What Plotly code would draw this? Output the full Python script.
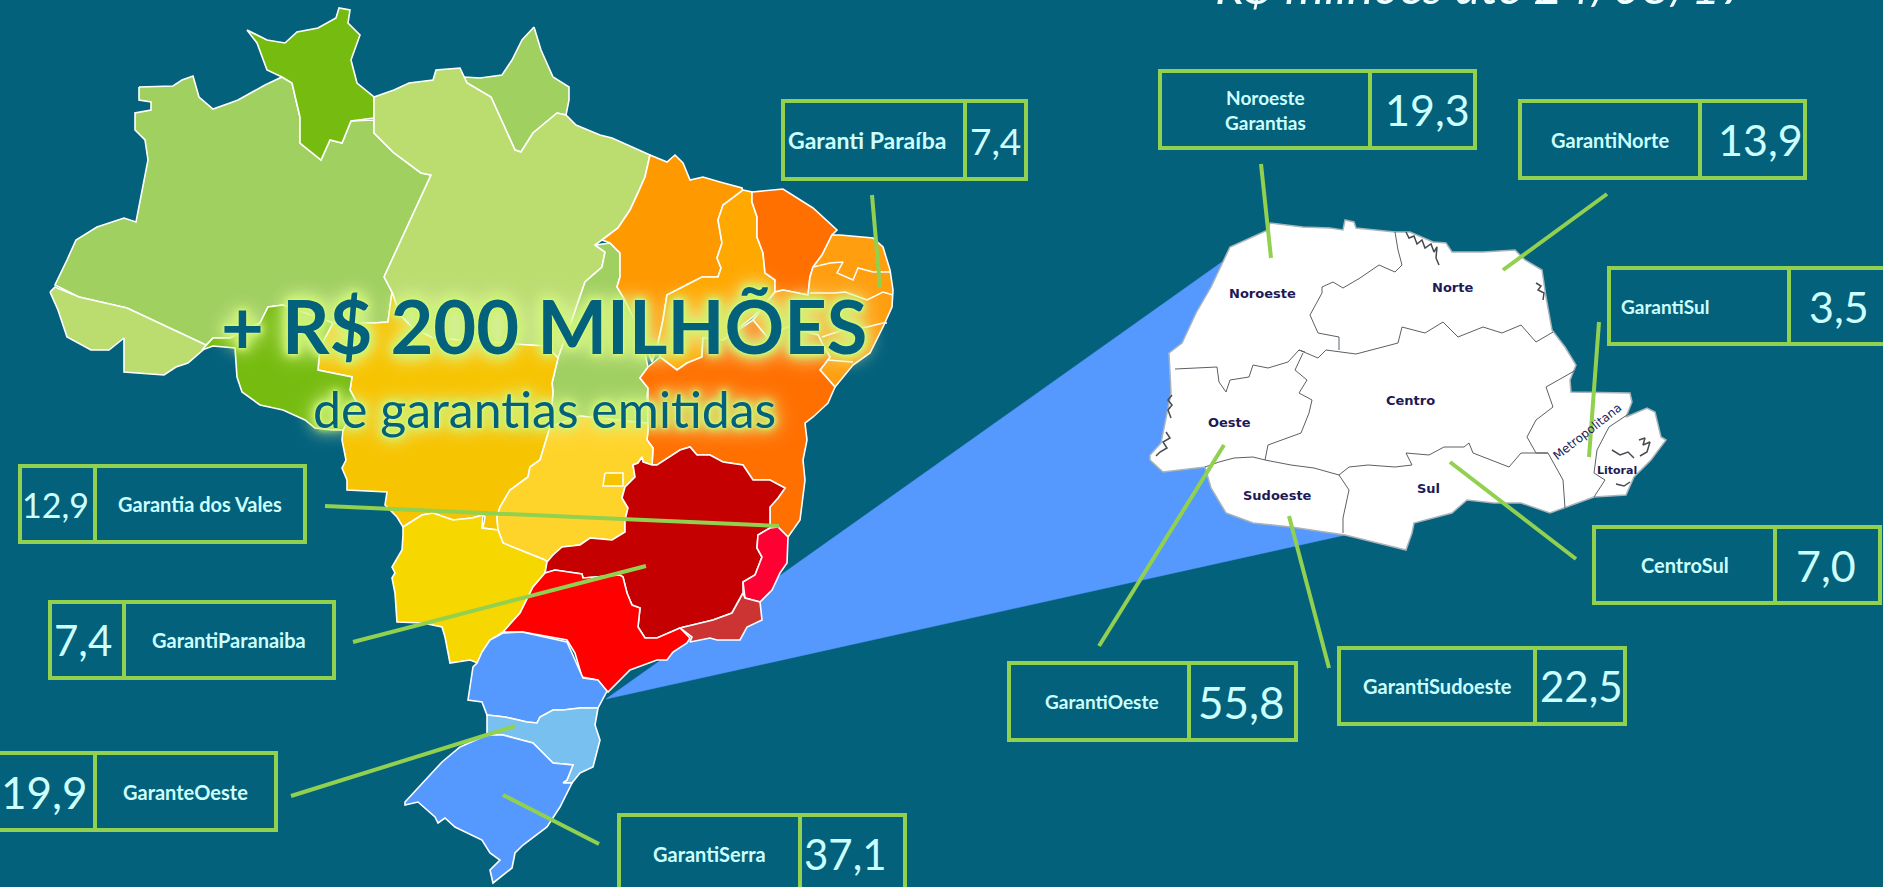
import plotly.graph_objects as go

# ---------- Fund data ----------
fund_names = ["Garanti Paraíba", "Noroeste<br>Garantias", "GarantiNorte", "GarantiSul", "CentroSul",
              "GarantiSudoeste", "GarantiOeste", "GarantiSerra", "GaranteOeste", "GarantiParanaiba", "Garantia dos Vales"]
fund_values = [7.4, 19.3, 13.9, 3.5, 7.0, 22.5, 55.8, 37.1, 19.9, 7.4, 12.9]
value_font = [37, 43, 43, 43, 43, 42, 44, 42, 44, 42, 34]
value_dx = [0, 5, 8, 3, -2, 1, -1, -7, -3, -4, -2]
label_font = [23, 19, 20, 19, 20, 20, 19, 20, 20, 20, 20]
label_dx = [-7, 0, 0, -34, 0, 0, 3, 0, 0, 0, 0]
# box geometry: left, divider, right, top, bottom (value cell is the narrower side)
box_x0 = [783, 1160, 1520, 1609, 1594, 1339, 1009, 619, -6, 50, 20]
box_div = [965, 1370, 1700, 1789, 1775, 1535, 1189, 800, 95, 124, 95]
box_x1 = [1026, 1475, 1805, 1890, 1880, 1625, 1296, 905, 276, 334, 305]
box_y0 = [101, 71, 101, 268, 527, 648, 663, 815, 753, 602, 466]
box_y1 = [179, 148, 178, 344, 603, 724, 740, 893, 830, 678, 542]
value_left = [False, False, False, False, False, False, False, False, True, True, True]
leader_x0 = [872, 1261, 1607, 1599, 1576, 1329, 1099, 599, 291, 353, 325]
leader_y0 = [195, 164, 194, 322, 559, 668, 646, 844, 796, 642, 506]
leader_x1 = [880, 1271, 1503, 1589, 1450, 1289, 1224, 503, 515, 646, 779]
leader_y1 = [287, 258, 270, 457, 462, 516, 445, 795, 726, 566, 526]

# ---------- Brazil region outlines ----------
states = {
 "Amazonas": ("#A0D060", [(139,87),(173,86),(182,80),(193,76),(199,97),(213,109),(230,103),(238,100),(265,85),(282,77),(292,83),(300,117),(300,143),(321,160),(330,140),(342,143),(351,121),(374,120),(374,133),(394,153),(421,173),(431,175),(385,275),(392,292),(388,322),(373,323),(333,323),(283,305),(268,307),(260,323),(230,338),(213,338),(206,345),(127,308),(79,297),(55,285),(67,260),(76,240),(97,227),(124,218),(136,222),(148,160),(145,140),(135,130),(135,113),(151,110),(151,102),(139,100)]),
 "Roraima": ("#76BC10", [(247,30),(267,40),(285,43),(297,32),(318,28),(336,18),(339,8),(350,10),(348,23),(360,35),(351,60),(357,83),(374,97),(374,118),(351,121),(342,143),(330,140),(321,160),(300,143),(300,117),(292,83),(282,77),(267,70),(257,43)]),
 "Acre": ("#BBDD70", [(50,292),(55,287),(79,297),(127,308),(206,345),(203,350),(188,363),(176,367),(164,375),(124,372),(124,338),(109,350),(91,350),(67,337),(58,310)]),
 "Amapa": ("#A0D060", [(534,27),(541,50),(553,77),(569,87),(569,100),(566,115),(557,113),(533,133),(521,152),(515,150),(500,117),(491,97),(467,83),(464,77),(480,78),(502,75),(512,60),(522,40)]),
 "Para": ("#BBDD70", [(374,97),(394,90),(409,83),(433,80),(436,70),(460,68),(467,83),(491,97),(500,117),(515,150),(521,152),(533,133),(557,113),(566,115),(576,125),(600,135),(612,138),(630,146),(650,155),(645,177),(638,193),(630,210),(618,228),(602,240),(595,245),(605,252),(602,267),(585,282),(580,297),(572,320),(558,358),(547,346),(528,345),(433,338),(413,328),(400,315),(392,292),(384,277),(431,175),(421,173),(394,153),(374,133)]),
 "Tocantins": ("#A0D060", [(595,245),(610,243),(620,253),(620,277),(617,287),(623,297),(640,330),(648,367),(640,378),(648,388),(647,397),(648,423),(625,421),(600,418),(580,416),(550,427),(553,392),(552,383),(558,358),(572,320),(580,297),(585,282),(602,267),(605,252)]),
 "Maranhao": ("#FF9900", [(650,155),(667,162),(675,155),(683,163),(690,180),(703,177),(720,182),(742,188),(743,192),(723,205),(718,220),(722,243),(717,258),(721,268),(718,277),(702,277),(690,283),(667,295),(663,320),(658,343),(652,362),(640,330),(623,297),(617,287),(620,277),(620,253),(610,243),(602,240),(618,228),(630,210),(638,193),(645,177)]),
 "Piaui": ("#FFA800", [(743,190),(752,192),(752,202),(757,217),(757,237),(763,253),(765,273),(775,280),(775,292),(753,317),(723,340),(703,338),(702,357),(687,363),(677,370),(660,357),(658,343),(663,320),(667,295),(690,283),(702,277),(718,277),(721,268),(717,258),(722,243),(718,220),(723,205)]),
 "Ceara": ("#FF7000", [(752,192),(783,189),(813,208),(837,230),(832,235),(822,255),(813,267),(810,277),(808,295),(797,293),(783,290),(775,292),(775,280),(765,273),(763,253),(757,237),(757,217),(752,202)]),
 "Nordeste leste": ("#FF9F10", [(840,235),(873,238),(883,247),(890,270),(893,290),(892,307),(883,327),(870,353),(853,365),(843,377),(835,387),(820,370),(830,357),(823,345),(818,335),(787,327),(768,338),(753,320),(775,292),(783,290),(797,293),(808,295),(810,277),(813,267),(822,255),(832,235)]),
 "Bahia": ("#FF7000", [(660,357),(677,370),(687,363),(702,357),(703,338),(723,340),(753,320),(768,338),(787,327),(818,335),(823,345),(830,357),(820,370),(835,387),(828,403),(813,417),(805,423),(807,440),(803,460),(805,480),(800,520),(788,537),(778,527),(770,528),(770,507),(778,498),(785,488),(770,480),(753,480),(743,465),(723,462),(710,455),(697,455),(690,447),(680,450),(657,465),(652,465),(653,448),(647,440),(648,430),(648,397),(648,388),(640,378),(648,367)]),
 "Mato Grosso": ("#F6C400", [(392,292),(400,315),(413,328),(433,338),(528,345),(547,346),(558,358),(552,383),(553,392),(550,427),(543,450),(540,460),(530,467),(528,477),(510,490),(500,507),(497,517),(498,530),(483,528),(485,517),(483,515),(472,518),(453,520),(433,513),(422,515),(403,527),(397,517),(385,505),(387,492),(347,490),(347,480),(342,468),(346,460),(342,440),(343,430),(357,403),(350,390),(352,377),(318,370),(320,347),(333,323),(373,323),(388,322)]),
 "Rondonia": ("#76BC10", [(202,350),(213,338),(230,338),(260,323),(268,307),(283,305),(333,323),(320,347),(318,370),(352,377),(350,390),(357,403),(343,430),(333,430),(315,428),(305,420),(283,410),(260,405),(242,392),(237,377),(235,348),(213,346)]),
 "Goias": ("#FFD42A", [(550,427),(580,416),(600,418),(625,421),(648,423),(648,430),(647,440),(653,448),(652,465),(643,462),(642,457),(638,463),(633,465),(635,477),(625,487),(622,498),(628,508),(625,520),(625,532),(612,540),(590,538),(580,545),(562,547),(553,555),(547,562),(545,560),(503,543),(498,530),(497,517),(500,507),(510,490),(528,477),(530,467),(540,460),(543,450)]),
 "DF": ("#F6C400", [(605,473),(623,473),(623,486),(603,486)]),
 "Mato Grosso do Sul": ("#F7D700", [(403,527),(422,515),(433,513),(453,520),(472,518),(483,515),(482,528),(498,530),(503,543),(545,560),(547,562),(545,573),(533,587),(520,613),(503,632),(490,640),(478,663),(470,660),(450,663),(445,637),(442,627),(423,623),(397,622),(395,593),(392,578),(395,573),(392,567),(402,550),(403,535)]),
 "Minas Gerais": ("#C40000", [(652,465),(643,462),(642,457),(638,463),(633,465),(635,477),(625,487),(622,498),(628,508),(625,520),(625,532),(612,540),(590,538),(580,545),(562,547),(553,555),(547,562),(545,573),(555,570),(582,574),(583,578),(620,575),(623,577),(627,593),(632,605),(640,608),(638,627),(645,638),(657,638),(680,628),(713,620),(732,613),(743,593),(743,582),(755,575),(762,557),(757,548),(758,535),(770,528),(770,507),(778,498),(785,488),(770,480),(753,480),(743,465),(723,462),(710,455),(697,455),(690,447),(680,450),(657,465)]),
 "Espirito Santo": ("#FF0033", [(770,528),(778,527),(788,537),(787,563),(780,573),(772,590),(760,602),(745,598),(743,582),(755,575),(762,557),(757,548),(758,535)]),
 "Rio de Janeiro": ("#CC3333", [(743,593),(745,598),(760,602),(762,620),(747,627),(740,640),(717,640),(710,638),(690,642),(692,637),(680,628),(713,620),(732,613)]),
 "Sao Paulo": ("#FF0000", [(545,573),(533,587),(520,613),(503,632),(523,632),(567,640),(575,653),(582,677),(597,680),(608,692),(630,670),(657,660),(667,660),(673,652),(687,643),(690,638),(680,628),(657,638),(645,638),(638,627),(640,608),(632,605),(627,593),(623,577),(620,575),(583,578),(582,574),(555,570)]),
 "Parana": ("#5599FF", [(490,640),(503,633),(522,632),(567,642),(575,660),(583,678),(598,680),(607,691),(598,708),(580,708),(563,710),(553,710),(540,717),(537,723),(527,722),(505,717),(487,715),(482,702),(468,700),(473,667),(477,663),(482,652)]),
 "Santa Catarina": ("#78C0F0", [(487,715),(505,717),(527,722),(537,723),(540,717),(553,710),(563,710),(580,708),(598,708),(595,725),(600,740),(593,767),(580,773),(572,783),(563,783),(567,780),(573,765),(553,763),(533,743),(503,735),(487,735)]),
 "Rio Grande do Sul": ("#5599FF", [(487,735),(503,735),(533,743),(553,763),(573,765),(567,780),(563,783),(572,783),(560,807),(547,827),(523,845),(515,853),(512,868),(493,883),(490,870),(500,860),(490,853),(482,840),(455,827),(445,818),(438,823),(435,817),(418,802),(405,805),(405,802),(423,783),(442,762),(460,747)]),
}
state_borders = [
 [(813,267),(830,263),(843,262),(837,273),(853,280),(858,268),(873,272),(890,272)],
 [(810,293),(835,293),(845,292),(867,300),(883,292),(893,295)],
 [(822,337),(843,330),(867,327),(883,323),(887,323)],
 [(828,360),(853,362)],
]
cone = [(606,699),(1222,262),(1345,535)]

# ---------- Parana map ----------
pr_outline = [(1270,223),(1303,227),(1330,228),(1343,230),(1345,220),(1354,222),(1356,228),(1395,232),(1410,232),(1433,242),(1446,243),(1452,252),(1483,252),(1515,250),(1525,260),(1542,270),(1546,297),(1552,330),(1565,347),(1576,365),(1570,380),(1571,392),(1630,393),(1632,402),(1626,417),(1647,408),(1655,412),(1661,437),(1666,440),(1651,460),(1634,477),(1626,495),(1594,497),(1565,508),(1550,513),(1521,503),(1494,503),(1467,500),(1452,513),(1414,523),(1412,533),(1406,550),(1376,543),(1345,535),(1291,527),(1253,523),(1226,513),(1211,488),(1205,467),(1163,472),(1150,460),(1150,455),(1161,443),(1171,393),(1169,353),(1182,343),(1196,313),(1211,287),(1230,247),(1268,230)]
pr_borders = [
 [(1175,369),(1196,368),(1217,367),(1219,382),(1226,392),(1230,380),(1249,377),(1253,365),(1268,368),(1288,362),(1299,350),(1305,352)],
 [(1303,353),(1295,370),(1307,380),(1299,393),(1312,400),(1309,413),(1301,433),(1268,445),(1265,460)],
 [(1299,350),(1318,358),(1326,350),(1356,354),(1398,343),(1402,327),(1425,333),(1443,322),(1458,337),(1483,327),(1502,333),(1521,325),(1536,342),(1553,332)],
 [(1339,350),(1339,337),(1318,333),(1310,315),(1322,293),(1322,287),(1333,282),(1343,288),(1360,278),(1379,265),(1395,272),(1402,265),(1398,250),(1395,232)],
 [(1205,467),(1219,462),(1234,458),(1253,457),(1265,460),(1291,465),(1314,468),(1339,475),(1349,467),(1368,465),(1395,467),(1412,465),(1406,453),(1429,455),(1444,447),(1464,447),(1469,443),(1473,453),(1509,467),(1521,453),(1548,453),(1563,480),(1565,508)],
 [(1339,475),(1349,490),(1343,518),(1343,533)],
 [(1576,370),(1546,387),(1553,407),(1536,420),(1527,437),(1536,453),(1548,453)],
 [(1630,413),(1609,427),(1597,450),(1594,473),(1605,480),(1594,497)],
]
pr_coast_marks = [
 [(1406,232),(1409,238),(1414,236),(1417,244),(1422,240),(1425,248),(1431,244),(1434,252),(1437,247),(1436,258),(1439,265)],
 [(1536,283),(1541,286),(1538,290),(1544,293),(1543,300)],
 [(1172,395),(1168,400),(1172,405),(1168,410),(1171,418)],
 [(1166,432),(1170,438),(1163,442),(1167,448),(1160,452),(1156,456)],
 [(1639,440),(1645,438),(1643,445),(1650,442),(1647,452),(1640,456)],
 [(1612,450),(1620,455),(1628,452),(1634,458)],
 [(1616,484),(1624,486),(1630,482)],
]
pr_region_names = ["Noroeste", "Norte", "Centro", "Oeste", "Sudoeste", "Sul", "Metropolitana", "Litoral"]
pr_region_x = [1262, 1452, 1410, 1229, 1277, 1428, 1587, 1617]
pr_region_y = [293, 287, 400, 422, 495, 488, 432, 470]
pr_region_angle = [0, 0, 0, 0, 0, 0, -38, 0]
pr_region_size = [13, 13, 13, 13, 13, 13, 12, 11]
pr_region_weight = [700, 700, 700, 700, 700, 700, 400, 700]

# ---------- Text ----------
headline = "+ R$ 200 MILHÕES"
subhead = "de garantias emitidas"
top_note = "R$ milhões até 24/08/17"

BG = "#03617C"
GREEN = "#92D050"
PALE = "#CCFFFF"

fig = go.Figure()


def poly(pts, fill, line, width, name):
    fig.add_trace(go.Scatter(x=[p[0] for p in pts] + [pts[0][0]], y=[p[1] for p in pts] + [pts[0][1]],
                             mode="lines", fill="toself", fillcolor=fill,
                             line=dict(color=line, width=width), hoverinfo="skip", name=name))


def path(pts, color, width):
    fig.add_trace(go.Scatter(x=[p[0] for p in pts], y=[p[1] for p in pts], mode="lines",
                             line=dict(color=color, width=width), hoverinfo="skip"))


poly(cone, "#5599FF", "#5599FF", 0.5, "Zoom")
for name, (color, pts) in states.items():
    poly(pts, color, "white", 1.6, name)
for b in state_borders:
    path(b, "white", 1.5)

poly(pr_outline, "white", "#A8B4BA", 1.5, "Paraná")
for b in pr_borders:
    path(b, "#5A6066", 1)
for b in pr_coast_marks:
    path(b, "#444A50", 1.5)

shapes = []
anns = []
for i, nm in enumerate(fund_names):
    shapes.append(dict(type="rect", xref="x", yref="y", x0=box_x0[i], x1=box_x1[i], y0=box_y0[i], y1=box_y1[i],
                       line=dict(color=GREEN, width=4), fillcolor="rgba(0,0,0,0)", layer="above"))
    shapes.append(dict(type="line", xref="x", yref="y", x0=box_div[i], x1=box_div[i], y0=box_y0[i], y1=box_y1[i],
                       line=dict(color=GREEN, width=4), layer="above"))
    shapes.append(dict(type="line", xref="x", yref="y", x0=leader_x0[i], x1=leader_x1[i], y0=leader_y0[i], y1=leader_y1[i],
                       line=dict(color=GREEN, width=4), layer="above"))
    ymid = (box_y0[i] + box_y1[i]) / 2
    right = min(box_x1[i], 1883)
    left = max(box_x0[i], 0)
    if value_left[i]:
        vx, lx = (left + box_div[i]) / 2, (box_div[i] + right) / 2
    else:
        vx, lx = (box_div[i] + right) / 2, (left + box_div[i]) / 2
    anns.append(dict(x=lx + label_dx[i], y=ymid, text=nm, showarrow=False, xref="x", yref="y",
                     font=dict(family="Lato", size=label_font[i], color=PALE, weight=700), xanchor="center", yanchor="middle"))
    anns.append(dict(x=vx + value_dx[i], y=ymid, text=f"{fund_values[i]:.1f}".replace(".", ","), showarrow=False, xref="x", yref="y",
                     font=dict(family="Lato", size=value_font[i], color=PALE), xanchor="center", yanchor="middle"))

for n, x, y, a, s, w in zip(pr_region_names, pr_region_x, pr_region_y, pr_region_angle, pr_region_size, pr_region_weight):
    anns.append(dict(x=x, y=y, text=n, showarrow=False, xref="x", yref="y", textangle=a,
                     font=dict(family="DejaVu Sans", size=s, color="#1E1A55", weight=w), xanchor="center", yanchor="middle"))

glow = "0 0 3px #e6ff9a, 0 0 6px #d0f570, 0 0 8px #c6f060, 0 0 12px #c6f060, 0 0 18px #eaffb8, 0 0 24px #eaffb8"
anns.append(dict(x=544, y=325, text=f"<b>{headline}</b>", showarrow=False, xref="x", yref="y",
                 font=dict(family="Lato", size=74, color=BG, shadow=glow), xanchor="center", yanchor="middle"))
anns.append(dict(x=544, y=409, text=subhead, showarrow=False, xref="x", yref="y",
                 font=dict(family="Lato", size=50, color=BG, shadow=glow), xanchor="center", yanchor="middle"))
anns.append(dict(x=1482, y=1, yshift=16, text=f"<i>{top_note}</i>", showarrow=False, xref="x", yref="y",
                 font=dict(family="Lato", size=50, color="#F2FEFF"), xanchor="center", yanchor="middle"))

fig.update_layout(width=1883, height=887, autosize=False, margin=dict(l=0, r=0, t=0, b=0, pad=0),
                  paper_bgcolor=BG, plot_bgcolor=BG, showlegend=False, shapes=shapes, annotations=anns,
                  xaxis=dict(range=[0, 1883], visible=False, fixedrange=True),
                  yaxis=dict(range=[887, 0], visible=False, fixedrange=True))

fig.write_html("out.html", config={"displayModeBar": False},
               post_script="document.body.style.margin='0';document.body.style.background='#03617C';document.body.style.overflow='hidden';")
